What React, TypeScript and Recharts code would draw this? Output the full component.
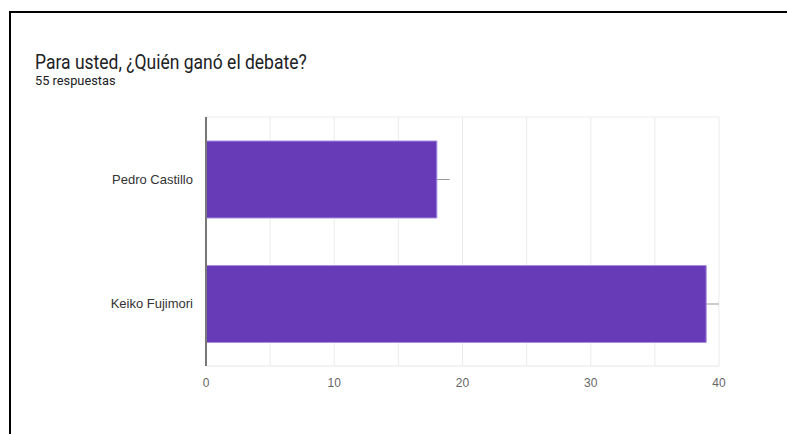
import { BarChart, Bar, XAxis, YAxis, CartesianGrid, ErrorBar } from "recharts";

const categories = ["Pedro Castillo", "Keiko Fujimori"];
const votes = [18, 39];
const whiskerHigh = [1, 1];
const xTicks = [0, 5, 10, 15, 20, 25, 30, 35, 40];

const data = categories.map((name, i) => ({
  name,
  value: votes[i],
  err: [0, whiskerHigh[i]],
}));

const axisFont = "'Liberation Sans', Arial, sans-serif";

export default function App() {
  return (
    <div
      style={{
        position: "absolute",
        left: 0,
        top: 0,
        width: 787,
        height: 434,
        background: "#fff",
        overflow: "hidden",
      }}
    >
      <div
        style={{
          position: "absolute",
          left: 9,
          top: 11,
          right: 0,
          bottom: 0,
          borderTop: "2px solid #000",
          borderLeft: "2px solid #000",
        }}
      />
      <div
        style={{
          position: "absolute",
          left: 35,
          top: 52,
          fontFamily: "Roboto, sans-serif",
          fontSize: 17.5,
          lineHeight: "17.5px",
          color: "#202124",
          whiteSpace: "nowrap",
          transform: "scale(1, 1.2)",
          transformOrigin: "0 0",
        }}
      >
        Para usted, ¿Quién ganó el debate?
      </div>
      <div
        style={{
          position: "absolute",
          left: 35,
          top: 75,
          fontFamily: "Roboto, sans-serif",
          fontSize: 12.8,
          lineHeight: "12.8px",
          color: "#202124",
          whiteSpace: "nowrap",
        }}
      >
        55 respuestas
      </div>
      <div style={{ position: "absolute", left: 0, top: 0 }}>
        <BarChart
          width={787}
          height={434}
          layout="vertical"
          data={data}
          margin={{ top: 116, right: 68, bottom: 38, left: 0 }}
          style={{ fontFamily: axisFont }}
        >
          <CartesianGrid horizontal={false} stroke="#ebebeb" />
          <XAxis
            type="number"
            domain={[0, 40]}
            ticks={xTicks}
            interval={0}
            tickFormatter={(v: number) => (v % 10 === 0 ? String(v) : "")}
            axisLine={{ stroke: "#e6e6e6" }}
            tickLine={false}
            tickSize={0}
            tickMargin={12}
            height={30}
            tick={{ fill: "#666", fontSize: 12 }}
          />
          <XAxis
            xAxisId="top"
            type="number"
            orientation="top"
            domain={[0, 40]}
            tick={false}
            tickLine={false}
            axisLine={{ stroke: "#ececec" }}
            height={1}
          />
          <YAxis
            type="category"
            dataKey="name"
            width={206}
            axisLine={{ stroke: "#777", strokeWidth: 2 }}
            tickLine={false}
            tickSize={0}
            tickMargin={13}
            tick={{ fill: "#333", fontSize: 13 }}
          />
          <Bar
            dataKey="value"
            fill="#673ab7"
            stroke="#a88de0"
            strokeWidth={1}
            barSize={77}
            isAnimationActive={false}
          >
            <ErrorBar
              dataKey="err"
              direction="x"
              width={0}
              stroke="#999"
              strokeWidth={1}
            />
          </Bar>
        </BarChart>
      </div>
    </div>
  );
}
